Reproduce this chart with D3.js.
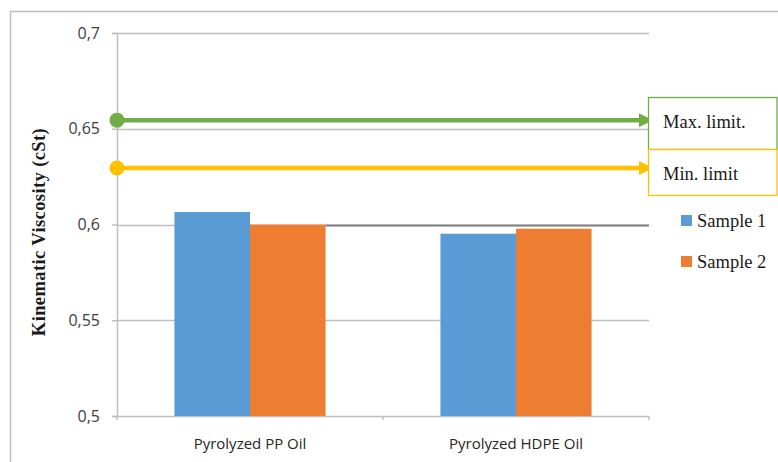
<!DOCTYPE html>
<html>
<head>
<meta charset="utf-8">
<script src="https://cdn.jsdelivr.net/npm/d3@7"></script>
<style>
  html, body { margin: 0; padding: 0; background: #fff; }
  svg { display: block; }
</style>
</head>
<body>
<svg id="chart" width="778" height="462"></svg>
<script>
// Kinematic viscosity of pyrolyzed oils, two samples each
const categories = ["Pyrolyzed PP Oil", "Pyrolyzed HDPE Oil"];
const seriesNames = ["Sample 1", "Sample 2"];
const sample1 = [0.6065, 0.5952];
const sample2 = [0.6000, 0.5978];
const yTicks = [0.5, 0.55, 0.6, 0.65, 0.7];
const maxLimit = 0.6545;
const minLimit = 0.6295;
const limitLabels = ["Max. limit.", "Min. limit"];

const colors = { s1: "#5B9BD5", s2: "#ED7D31", max: "#70AD47", min: "#FFC000" };

const svg = d3.select("#chart");
const W = 778, H = 462;
const m = { left: 117, top: 33, right: 129, bottom: 46 };
const pw = W - m.left - m.right, ph = H - m.top - m.bottom;

// outer chart frame
svg.append("rect").attr("x", 10.5).attr("y", 11.5).attr("width", W).attr("height", H)
  .attr("fill", "none").attr("stroke", "#bfbfbf").attr("stroke-width", 1.5);

const g = svg.append("g").attr("transform", `translate(${m.left},${m.top})`);

const x = d3.scaleBand().domain(categories).range([0, pw]).paddingInner(0).paddingOuter(0);
const y = d3.scaleLinear().domain([0.5, 0.7]).range([ph, 0]);
const xs = d3.scaleBand().domain(seriesNames).range([0, x.bandwidth()]).paddingInner(0).paddingOuter(0.76);

// horizontal gridlines
g.append("g").selectAll("line").data(yTicks).join("line")
  .attr("x1", 0).attr("x2", pw)
  .attr("y1", d => Math.round(y(d)) + 0.5).attr("y2", d => Math.round(y(d)) + 0.5)
  .attr("stroke", "#bfbfbf").attr("stroke-width", 1.5);

// y axis
const yAxis = d3.axisLeft(y).tickValues(yTicks)
  .tickFormat(d => String(d).replace(".", ","))
  .tickSize(5).tickPadding(12);
const ya = g.append("g").call(yAxis);
ya.select(".domain").attr("stroke", "#bfbfbf").attr("stroke-width", 1.5);
ya.selectAll(".tick line").attr("stroke", "#bfbfbf").attr("stroke-width", 1.5);
ya.selectAll(".tick text").attr("fill", "#404040")
  .style("font-family", "'Open Sans', sans-serif").style("font-size", "16px");

// x axis category separators
const xa = g.append("g").attr("transform", `translate(0,${ph})`);
xa.selectAll("line").data([0, pw / 2, pw]).join("line")
  .attr("x1", d => d).attr("x2", d => d).attr("y1", 0).attr("y2", 4)
  .attr("stroke", "#bfbfbf").attr("stroke-width", 1.5);
xa.selectAll("text").data(categories).join("text")
  .attr("x", d => x(d) + x.bandwidth() / 2).attr("y", 33)
  .attr("text-anchor", "middle").attr("fill", "#262626")
  .style("font-family", "'Open Sans', sans-serif").style("font-size", "15px")
  .text(d => d);

// bars
const rows = categories.map((c, i) => ({ c, vals: [sample1[i], sample2[i]] }));
const grp = g.append("g").selectAll("g").data(rows).join("g")
  .attr("transform", d => `translate(${x(d.c)},0)`);
grp.selectAll("rect").data(d => d.vals.map((v, j) => ({ v, s: seriesNames[j], j })))
  .join("rect")
  .attr("x", d => xs(d.s)).attr("width", xs.bandwidth())
  .attr("y", d => y(d.v)).attr("height", d => ph - y(d.v))
  .attr("fill", d => d.j === 0 ? colors.s1 : colors.s2);

// darker reference line at 0.6 between the two groups
const refStart = x(categories[0]) + xs(seriesNames[1]) + xs.bandwidth();
g.append("line").attr("x1", refStart).attr("x2", pw)
  .attr("y1", Math.round(y(0.6)) + 0.5).attr("y2", Math.round(y(0.6)) + 0.5)
  .attr("stroke", "#808080").attr("stroke-width", 2);

// limit arrows
const defs = svg.append("defs");
[["max", colors.max], ["min", colors.min]].forEach(([k, c]) => {
  defs.append("marker").attr("id", "arrow-" + k)
    .attr("viewBox", "0 0 10 10").attr("refX", 10).attr("refY", 5)
    .attr("markerUnits", "userSpaceOnUse")
    .attr("markerWidth", 17).attr("markerHeight", 14).attr("orient", "auto")
    .append("path").attr("d", "M0,0 L10,5 L0,10 Z").attr("fill", c);
});
const limits = [
  { k: "max", v: maxLimit, c: colors.max, label: limitLabels[0] },
  { k: "min", v: minLimit, c: colors.min, label: limitLabels[1] }
];
limits.forEach(l => {
  g.append("line").attr("x1", 0).attr("x2", pw + 4)
    .attr("y1", y(l.v)).attr("y2", y(l.v))
    .attr("stroke", l.c).attr("stroke-width", 4.5)
    .attr("marker-end", `url(#arrow-${l.k})`);
  g.append("circle").attr("cx", 0).attr("cy", y(l.v)).attr("r", 7.5).attr("fill", l.c);
});

// limit label boxes
const boxX = m.left + pw - 1;
const boxes = [
  { y0: 97, h: 52, c: colors.max, label: limitLabels[0], ty: 128 },
  { y0: 149, h: 46, c: colors.min, label: limitLabels[1], ty: 180 }
];
boxes.forEach(b => {
  svg.append("rect").attr("x", boxX + 0.5).attr("y", b.y0 + 0.5)
    .attr("width", W - boxX - 1.5).attr("height", b.h)
    .attr("fill", "#fff").attr("stroke", b.c).attr("stroke-width", 1.3);
  svg.append("text").attr("x", boxX + 15).attr("y", b.ty)
    .attr("fill", "#1a1a1a")
    .style("font-family", "'Liberation Serif', serif").style("font-size", "18.5px")
    .text(b.label);
});

// legend
const leg = svg.append("g").attr("transform", "translate(681,215)");
seriesNames.forEach((s, i) => {
  const r = leg.append("g").attr("transform", `translate(0,${i * 41})`);
  r.append("rect").attr("width", 11).attr("height", 11)
    .attr("fill", i === 0 ? colors.s1 : colors.s2);
  r.append("text").attr("x", 16).attr("y", 12)
    .attr("fill", "#1a1a1a")
    .style("font-family", "'Liberation Serif', serif").style("font-size", "18.5px")
    .text(s);
});

// y axis title
svg.append("text")
  .attr("transform", "translate(45,232) rotate(-90)")
  .attr("text-anchor", "middle").attr("fill", "#1a1a1a")
  .style("font-family", "'Liberation Serif', serif").style("font-size", "18.5px")
  .style("font-weight", "bold").style("letter-spacing", "0.4px")
  .text("Kinematic Viscosity (cSt)");
</script>
</body>
</html>
